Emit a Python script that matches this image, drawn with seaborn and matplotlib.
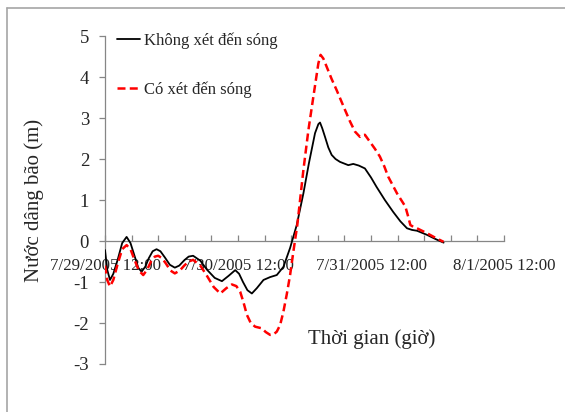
import matplotlib
matplotlib.use('Agg')
import matplotlib.pyplot as plt
from matplotlib.lines import Line2D
from matplotlib.ticker import FixedLocator, MultipleLocator, NullFormatter
import seaborn as sns
import pandas as pd

# hours after 7/29/2005 12:00
hours_khong = [0.0, 0.4, 0.9, 1.5, 2.3, 3.1, 3.9, 4.6, 5.3, 6.0, 6.6, 7.3,
               7.9, 8.6, 9.3, 10.0, 10.8, 11.7, 12.6, 13.4, 14.3, 15.1, 15.9,
               17.2, 18.4, 19.8, 21.1, 22.3, 23.5, 24.2, 24.9, 25.7, 26.5,
               27.4, 28.6, 29.8, 31.0, 32.2, 33.4, 34.6, 35.8, 36.8, 37.9,
               38.5, 38.8, 39.2, 39.7, 40.3, 40.9, 41.6, 42.4, 43.9, 44.8,
               45.8, 46.9, 48.0, 49.0, 50.5, 52.0, 53.3, 54.5, 55.4, 56.3,
               58.1, 59.6, 61.1]
nuoc_khong = [-0.22, -0.7, -0.95, -0.8, -0.45, -0.05, 0.1, -0.05, -0.35, -0.65,
              -0.75, -0.62, -0.42, -0.25, -0.2, -0.25, -0.4, -0.58, -0.65,
              -0.6, -0.47, -0.38, -0.36, -0.48, -0.7, -0.9, -0.98, -0.85,
              -0.71, -0.8, -1.0, -1.2, -1.28, -1.15, -0.95, -0.88, -0.83,
              -0.63, -0.17, 0.39, 1.16, 1.9, 2.63, 2.85, 2.89, 2.75, 2.54,
              2.28, 2.1, 2.0, 1.93, 1.85, 1.88, 1.84, 1.77, 1.55, 1.32, 1.0,
              0.71, 0.48, 0.31, 0.27, 0.25, 0.15, 0.05, -0.04]

hours_co = [0.0, 0.4, 0.9, 1.5, 2.3, 3.1, 3.9, 4.6, 5.3, 6.1, 6.9, 7.6, 8.3,
            9.0, 9.6, 10.3, 11.0, 11.8, 12.6, 13.5, 14.3, 15.1, 15.9, 17.2,
            18.4, 19.6, 20.8, 21.9, 22.9, 23.7, 24.4, 25.0, 25.6, 26.3, 27.1,
            28.3, 29.0, 29.8, 30.4, 31.0, 31.6, 32.2, 32.8, 33.4, 34.0, 34.7,
            35.8, 36.7, 37.6, 38.5, 38.9, 39.4, 40.0, 40.9, 41.8, 43.3, 44.2,
            45.1, 46.0, 46.4, 46.9, 47.8, 48.7, 49.6, 50.4, 51.1, 52.7, 54.2,
            54.7, 55.1, 55.7, 56.3, 58.1, 59.6, 61.1]
nuoc_co = [-0.6, -0.95, -1.11, -0.95, -0.55, -0.2, -0.1, -0.2, -0.45, -0.72,
           -0.83, -0.7, -0.5, -0.38, -0.36, -0.42, -0.55, -0.72, -0.79, -0.72,
           -0.6, -0.5, -0.46, -0.6, -0.85, -1.12, -1.28, -1.15, -1.06, -1.1,
           -1.24, -1.5, -1.8, -2.0, -2.09, -2.13, -2.22, -2.29, -2.28, -2.21,
           -2.05, -1.72, -1.3, -0.83, -0.25, 0.39, 1.73, 2.7, 3.52, 4.33, 4.54,
           4.45, 4.25, 3.95, 3.68, 3.2, 2.92, 2.67, 2.54, 2.58, 2.59, 2.42,
           2.25, 2.06, 1.82, 1.57, 1.16, 0.84, 0.6, 0.39, 0.34, 0.31, 0.19,
           0.08, -0.02]

tick_hours = [0, 24, 48, 72]
tick_labels = ['7/29/2005 12:00', '7/30/2005 12:00', '7/31/2005 12:00', '8/1/2005 12:00']

sns.set_style('white')
plt.rcParams['font.family'] = ['Liberation Serif', 'DejaVu Serif']
plt.rcParams['axes.unicode_minus'] = False

fig = plt.figure(figsize=(5.65, 4.12), dpi=100)
ax = fig.add_axes([105 / 565, 1 - 364 / 412, 399 / 565, 328 / 412])

df_khong = pd.DataFrame({'gio': hours_khong, 'nuoc': nuoc_khong})
df_co = pd.DataFrame({'gio': hours_co, 'nuoc': nuoc_co})

sns.lineplot(data=df_khong, x='gio', y='nuoc', ax=ax, color='black', lw=1.3,
             label='Không xét đến sóng', zorder=3)
sns.lineplot(data=df_co, x='gio', y='nuoc', ax=ax, color='#ff0000', lw=1.8,
             label='Có xét đến sóng', zorder=3)
ax.lines[1].set_dashes([3.2, 1.7])

ax.set_xlim(0, 72)
ax.set_ylim(-3, 5)
ax.set_yticks(range(-3, 6))

ax.xaxis.set_major_locator(FixedLocator(tick_hours))
ax.set_xticklabels(tick_labels)
ax.xaxis.set_minor_locator(MultipleLocator(4.8))
ax.xaxis.set_minor_formatter(NullFormatter())

grey = '#868686'
for s in ['top', 'right']:
    ax.spines[s].set_visible(False)
ax.spines['bottom'].set_position(('data', 0))
for s in ['left', 'bottom']:
    ax.spines[s].set_color(grey)
    ax.spines[s].set_linewidth(0.9)

ax.tick_params(axis='y', direction='out', length=4.5, width=0.9, color=grey,
               labelsize=13.5, pad=7, left=True)
ax.tick_params(axis='x', which='both', direction='in', length=4, width=0.9,
               color=grey, bottom=True)
ax.tick_params(axis='x', which='major', labelsize=12.2, pad=12)

ax.set_ylabel('Nước dâng bão (m)', fontsize=15)
ax.yaxis.set_label_coords(-0.153, 0.5)
ax.set_xlabel('Thời gian (giờ)', fontsize=15)
ax.xaxis.set_label_coords(0.669, 0.106)

ax.legend(loc='upper left', bbox_to_anchor=(0.03, 1.01), frameon=False,
          fontsize=12, handlelength=1.4, handletextpad=0.2, labelspacing=1.93,
          borderpad=0, borderaxespad=0)

# border of the chart area (only top and left edges show)
fig.add_artist(Line2D([7 / 565, 1], [1 - 8 / 412, 1 - 8 / 412], color='#a6a6a6', lw=1.2))
fig.add_artist(Line2D([7 / 565, 7 / 565], [0, 1 - 8 / 412], color='#a6a6a6', lw=1.2))

fig.savefig('out.png', dpi=100)
